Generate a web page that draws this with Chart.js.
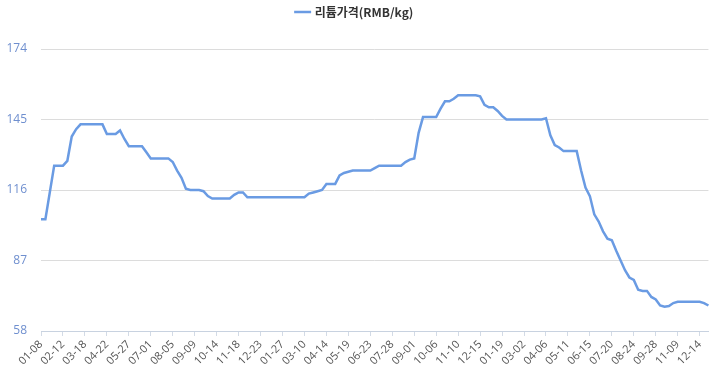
<!DOCTYPE html>
<html>
<head>
<meta charset="utf-8">
<script src="https://cdn.jsdelivr.net/npm/chart.js@4"></script>
<style>
  body { margin: 0; background: #fff; }
  #wrap { width: 711px; height: 377px; position: relative; }
</style>
</head>
<body>
<div id="wrap"><canvas id="priceChart"></canvas></div>
<script>
// weekly dates, 2016-01 .. 2018-12 (holiday weeks missing)
const dates = [
  "01-08","01-15","01-22","01-29","02-05","02-12","02-19","02-26","03-04","03-11",
  "03-18","03-25","04-01","04-08","04-15","04-22","04-29","05-06","05-13","05-20",
  "05-27","06-03","06-10","06-17","06-24","07-01","07-08","07-15","07-22","07-29",
  "08-05","08-12","08-19","08-26","09-02","09-09","09-16","09-23","09-30","10-07",
  "10-14","10-21","10-28","11-04","11-11","11-18","11-25","12-02","12-09","12-16",
  "12-23","12-30","01-06","01-13","01-20","01-27","02-10","02-17","02-24","03-03",
  "03-10","03-17","03-24","03-31","04-07","04-14","04-21","04-28","05-05","05-12",
  "05-19","05-26","06-02","06-09","06-16","06-23","06-30","07-07","07-14","07-21",
  "07-28","08-04","08-11","08-18","08-25","09-01","09-08","09-15","09-22","09-29",
  "10-06","10-13","10-20","10-27","11-03","11-10","11-17","11-24","12-01","12-08",
  "12-15","12-22","12-29","01-05","01-12","01-19","01-26","02-02","02-09","02-23",
  "03-02","03-09","03-16","03-23","03-30","04-06","04-13","04-20","04-27","05-04",
  "05-11","05-18","05-25","06-01","06-08","06-15","06-22","06-29","07-06","07-13",
  "07-20","07-27","08-03","08-10","08-17","08-24","08-31","09-07","09-14","09-21",
  "09-28","10-12","10-19","10-26","11-02","11-09","11-16","11-23","11-30","12-07",
  "12-14","12-21","12-28"
];

const lithiumPrice = [
  104, 104, 115, 126, 126, 126, 128, 138, 141, 143,
  143, 143, 143, 143, 143, 139, 139, 139, 140.5, 137,
  134, 134, 134, 134, 131.5, 129, 129, 129, 129, 129,
  127.5, 124, 121, 116.5, 116, 116, 116, 115.5, 113.5, 112.5,
  112.5, 112.5, 112.5, 112.5, 114, 115, 115, 113, 113, 113,
  113, 113, 113, 113, 113, 113, 113, 113, 113, 113,
  113, 114.5, 115, 115.5, 116, 118.5, 118.5, 118.5, 122, 123,
  123.5, 124, 124, 124, 124, 124, 125, 126, 126, 126,
  126, 126, 126, 127.5, 128.5, 129, 139.5, 146, 146, 146,
  146, 149.5, 152.5, 152.5, 153.5, 155, 155, 155, 155, 155,
  154.5, 151, 150, 150, 148.5, 146.5, 145, 145, 145, 145,
  145, 145, 145, 145, 145, 145.5, 138.5, 134.5, 133.5, 132,
  132, 132, 132, 124, 117, 113.5, 106, 103, 99, 96,
  95.3, 91, 87, 83, 80, 79, 75, 74.5, 74.5, 72,
  71, 68.5, 68, 68.3, 69.5, 70, 70, 70, 70, 70,
  70, 69.5, 68.5
];

const yMin = 58;
const yMax = 174;
const yStep = 29;
const labelEvery = 5;

// extra space under the legend
const legendGap = {
  id: "legendGap",
  beforeInit(chart) {
    const fit = chart.legend.fit;
    chart.legend.fit = function () {
      fit.bind(chart.legend)();
      this.height += 21;
    };
  }
};

const ctx = document.getElementById("priceChart");

new Chart(ctx, {
  type: "line",
  data: {
    labels: dates,
    datasets: [{
      label: "리튬가격(RMB/kg)",
      data: lithiumPrice,
      borderColor: "#6a9be3",
      backgroundColor: "#6a9be3",
      borderWidth: 2.5,
      pointRadius: 0,
      pointHoverRadius: 0,
      tension: 0,
      fill: false
    }]
  },
  options: {
    responsive: true,
    maintainAspectRatio: false,
    animation: false,
    layout: { padding: { top: 0, right: 1, left: 0, bottom: 0 } },
    plugins: {
      tooltip: { enabled: false },
      legend: {
        display: true,
        position: "top",
        labels: {
          usePointStyle: true,
          pointStyle: "line",
          boxWidth: 17,
          color: "#333",
          padding: 6,
          font: { family: "'Noto Sans CJK KR', 'Noto Sans', sans-serif", size: 12, weight: "bold" }
        }
      }
    },
    scales: {
      x: {
        offset: false,
        grid: {
          drawOnChartArea: false,
          drawTicks: true,
          tickLength: 5,
          color: "#d3dbe6",
          lineWidth: 1
        },
        border: { display: true, color: "#c8d2e0", width: 1 },
        ticks: {
          autoSkip: false,
          maxRotation: 45,
          minRotation: 45,
          padding: 2,
          color: "#555",
          font: { family: "'Open Sans', sans-serif", size: 11 },
          callback: function (value, index) {
            return index % labelEvery === 0 ? dates[index] : null;
          }
        },
        afterFit: function (scale) { scale.height = 46; }
      },
      y: {
        min: yMin,
        max: yMax,
        grid: {
          color: "#dcdcdc",
          drawTicks: false
        },
        border: { display: false },
        ticks: {
          stepSize: yStep,
          padding: 14,
          color: "#6f8fcf",
          font: { family: "'Open Sans', sans-serif", size: 12 }
        },
        afterFit: function (scale) { scale.width = 41; }
      }
    }
  },
  plugins: [legendGap]
});
</script>
</body>
</html>
